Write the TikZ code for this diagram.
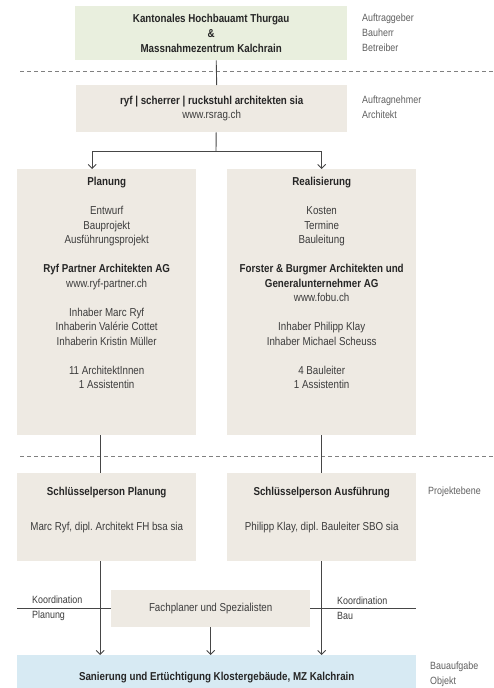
\documentclass[tikz,border=0pt]{standalone}
\usepackage{fontspec}
\setmainfont{Liberation Sans}[FakeStretch=0.85]
\usetikzlibrary{positioning,arrows.meta}
\frenchspacing
\definecolor{HeadFill}{RGB}{233,239,222}
\definecolor{BoxFill}{RGB}{238,234,227}
\definecolor{ObjFill}{RGB}{215,234,243}
\definecolor{LineGray}{RGB}{70,70,70}
\definecolor{TextGray}{RGB}{60,60,60}
\definecolor{SideGray}{RGB}{95,95,95}
\newcommand{\bt}[1]{\textbf{\color{black!85}#1}}

\begin{document}
\begin{tikzpicture}[x=1pt,y=-1pt,
box/.style={rectangle,fill=BoxFill,inner sep=0pt,anchor=north west,align=center,text=TextGray,font=\fontsize{11.5}{14.5}\selectfont},
txt/.style={align=center,inner sep=0pt,text=TextGray,font=\fontsize{11.5}{14.5}\selectfont},
side/.style={align=left,anchor=west,inner sep=0pt,text=SideGray,font=\fontsize{10.5}{15}\selectfont},
link/.style={draw=LineGray,line width=0.9pt},
arrow/.style={link,-{Straight Barb[length=4pt,width=8pt]}},
sep/.style={draw=gray,dashed,dash pattern=on 4pt off 3pt,line width=0.8pt}
]
\useasboundingbox (0,0) rectangle (494,688);

% boxes
\node[box,fill=HeadFill,minimum width=272pt,minimum height=54pt,font=\fontsize{11.5}{15}\selectfont] (head) at (75,6)
  {\bt{Kantonales Hochbauamt Thurgau}\\\bt{\&}\\\bt{Massnahmezentrum Kalchrain}};
\node[box,minimum width=271pt,minimum height=47pt] (rsr) at (76,85)
  {\bt{ryf | scherrer | ruckstuhl architekten sia}\\www.rsrag.ch};
\node[box,minimum width=179pt,minimum height=266pt] (plan) at (17,169) {};
\node[box,minimum width=189pt,minimum height=266pt] (real) at (227,169) {};
\node[box,minimum width=179pt,minimum height=88pt] (keyp) at (17,473) {};
\node[box,minimum width=189pt,minimum height=88pt] (keya) at (227,473) {};
\node[box,minimum width=199pt,minimum height=37pt] (fach) at (111,590) {Fachplaner und Spezialisten};
\node[box,fill=ObjFill,minimum width=399pt,minimum height=44pt] (obj) at (17,655)
  {\bt{Sanierung und Ertüchtigung Klostergebäude, MZ Kalchrain}};

% box texts
\node[txt,below=8pt of plan.north] (plantext) {\bt{Planung}\\[14.5pt]
  Entwurf\\Bauprojekt\\Ausführungsprojekt\\[14.5pt]
  \bt{Ryf Partner Architekten AG}\\www.ryf-partner.ch\\[14.5pt]
  Inhaber Marc Ryf\\Inhaberin Valérie Cottet\\Inhaberin Kristin Müller\\[14.5pt]
  11 ArchitektInnen\\1 Assistentin};
\node[txt,below=8pt of real.north] (realtext) {\bt{Realisierung}\\[14.5pt]
  Kosten\\Termine\\Bauleitung\\[14.5pt]
  \bt{Forster \& Burgmer Architekten und}\\\bt{Generalunternehmer AG}\\www.fobu.ch\\[14.5pt]
  Inhaber Philipp Klay\\Inhaber Michael Scheuss\\[14.5pt]
  4 Bauleiter\\1 Assistentin};
\node[txt,below=14pt of keyp.north] (keyptext) {\bt{Schlüsselperson Planung}\\[20.5pt]
  Marc Ryf, dipl. Architekt FH bsa sia};
\node[txt,below=14pt of keya.north] (keyatext) {\bt{Schlüsselperson Ausführung}\\[20.5pt]
  Philipp Klay, dipl. Bauleiter SBO sia};

% side labels
\node[side] (rolea) at (362,33) {Auftraggeber\\Bauherr\\Betreiber};
\node[side] (roleb) at (362,107) {Auftragnehmer\\Architekt};
\node[side] (rolec) at (428,492) {Projektebene};
\node[side] (roled) at (430,674) {Bauaufgabe\\Objekt};
\node[side,text=TextGray] (koordp) at (32,608) {Koordination\\Planung};
\node[side,text=TextGray] (koordb) at (337,608) {Koordination\\Bau};

% dashed levels
\draw[sep] (20,71) -- (494,71);
\draw[sep] (20,456) -- (494,456);

% connectors
\coordinate (split) at (216,151);
\draw[link] ([xshift=5pt]head.south) -- ([xshift=5pt]rsr.north);
\draw[link] ([xshift=4.5pt]rsr.south) -- (split);
\draw[arrow] (split) -| ([xshift=-14.5pt]plan.north);
\draw[arrow] (split) -| (real.north);
\draw[link] ([xshift=-6.5pt]plan.south) -- ([xshift=-6.5pt]keyp.north);
\draw[link] (real.south) -- (keya.north);
\draw[arrow] ([xshift=-6.5pt]keyp.south) -- ([xshift=-6.5pt]keyp.south |- obj.north);
\draw[arrow] (keya.south) -- (keya.south |- obj.north);
\draw[arrow] (fach.south) -- (fach.south |- obj.north);
\draw[link] (keyp.west |- fach.west) -- (fach.west);
\draw[link] (fach.east) -- (keya.east |- fach.east);
\end{tikzpicture}
\end{document}
